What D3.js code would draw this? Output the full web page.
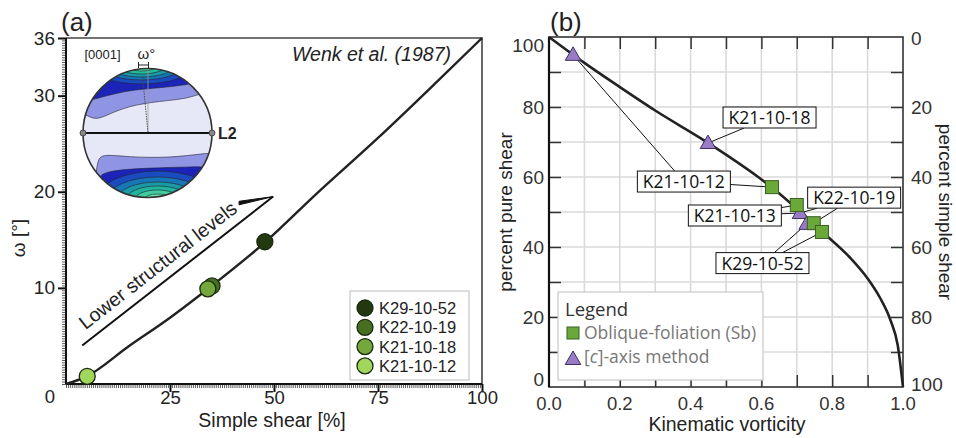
<!DOCTYPE html>
<html>
<head>
<meta charset="utf-8">
<script src="https://cdn.jsdelivr.net/npm/d3@7"></script>
<style>
body { margin: 0; background: #fff; }
text { font-family: "Liberation Sans", Arial, sans-serif; }
.lbl text, .lgd text { font-family: "Open Sans", sans-serif; }
.lgd text.sm { font-family: "Liberation Sans", Arial, sans-serif; }
</style>
</head>
<body>
<svg id="fig" width="956" height="438"></svg>
<script>
// ---- panel (a): omega vs simple shear (Wenk et al. 1987)
var shearPct = [0, 5, 15, 25, 35, 48, 60, 75, 90, 100];
var omegaDeg = [0, 0.8, 3.9, 6.9, 10.2, 14.8, 19.7, 25.6, 31.8, 36];

var sampleNames = ["K29-10-52", "K22-10-19", "K21-10-18", "K21-10-12"];
var sampleShear = [47.8, 35.1, 34.1, 5.1];
var sampleOmega = [14.8, 10.2, 9.9, 0.8];
var sampleColors = ["#22390f", "#46701f", "#74a83c", "#a0d65c"];

var aXTicks = [0, 25, 50, 75, 100];
var aYTicks = [10, 20, 30, 36];

// ---- panel (b): percent pure shear vs kinematic vorticity
var wkCurve   = [0, 0.1, 0.2, 0.3, 0.45, 0.63, 0.77, 0.85, 0.9, 0.935, 0.965, 0.985, 1.0];
var pureCurve = [100, 92.6, 85.7, 79, 69.7, 57, 44.5, 37, 31, 25.5, 19, 12, 0];

var sqName = ["K21-10-12", "K21-10-13", "K22-10-19", "K29-10-52"];
var sqWk   = [0.63, 0.70, 0.748, 0.771];
var sqPure = [57.1, 52, 46.8, 44.3];

var triName = ["K21-10-12", "K21-10-18", "K21-10-13", "K29-10-52"];
var triWk   = [0.068, 0.449, 0.709, 0.728];
var triPure = [94.9, 69.7, 49.7, 46.6];

var bXTicks = [0, 0.2, 0.4, 0.6, 0.8, 1.0];
var bYTicks = [0, 20, 40, 60, 80, 100];

var svg = d3.select("#fig");
var FS = 18.5;

// =================== panel (a)
var xa = d3.scaleLinear().domain([0, 100]).range([66, 482]);
var ya = d3.scaleLinear().domain([0, 36]).range([384, 38]);
var ga = svg.append("g");

// frame
ga.append("path")
    .attr("d", "M" + xa(0) + "," + ya(36) + "H" + xa(100) + "V" + ya(0))
    .attr("fill", "none").attr("stroke", "#444").attr("stroke-width", 1.6);

// minor ticks
ga.append("g").attr("transform", "translate(0," + ya(0) + ")")
    .call(d3.axisBottom(xa).ticks(200).tickSize(4).tickFormat(""))
    .call(function(g) { g.select(".domain").remove(); g.selectAll("line").attr("stroke", "#333").attr("stroke-width", 0.8); });
ga.append("g").attr("transform", "translate(" + xa(0) + ",0)")
    .call(d3.axisLeft(ya).tickValues(d3.range(0, 36.01, 0.25)).tickSize(4).tickFormat(""))
    .call(function(g) { g.select(".domain").remove(); g.selectAll("line").attr("stroke", "#333").attr("stroke-width", 0.8); });

// major ticks + labels
ga.append("g").attr("transform", "translate(0," + ya(0) + ")")
    .call(d3.axisBottom(xa).tickValues(aXTicks.slice(1)).tickSize(8).tickPadding(-1))
    .call(function(g) {
        g.select(".domain").remove();
        g.selectAll("line").attr("stroke", "#111").attr("stroke-width", 2);
        g.selectAll("text").attr("font-size", FS).attr("fill", "#222").attr("font-family", "Liberation Sans, Arial, sans-serif");
    });
ga.append("text").attr("x", xa(aXTicks[0]) - 16).attr("y", 403)
    .attr("text-anchor", "middle").attr("font-size", FS).attr("fill", "#222").text(aXTicks[0]);
ga.append("g").attr("transform", "translate(" + xa(0) + ",0)")
    .call(d3.axisLeft(ya).tickValues(aYTicks).tickSize(8).tickPadding(3))
    .call(function(g) {
        g.select(".domain").remove();
        g.selectAll("line").attr("stroke", "#111").attr("stroke-width", 2);
        g.selectAll("text").attr("font-size", FS + 0.5).attr("fill", "#222").attr("font-family", "Liberation Sans, Arial, sans-serif");
    });

// axes lines
ga.append("line").attr("x1", xa(0)).attr("x2", xa(100)).attr("y1", ya(0)).attr("y2", ya(0))
    .attr("stroke", "#111").attr("stroke-width", 2);
ga.append("line").attr("x1", xa(0)).attr("x2", xa(0)).attr("y1", ya(0)).attr("y2", ya(36))
    .attr("stroke", "#111").attr("stroke-width", 2);

// axis titles
ga.append("text").attr("x", 272).attr("y", 426.5).attr("text-anchor", "middle")
    .attr("font-size", 19.5).attr("fill", "#222").text("Simple shear [%]");
ga.append("text").attr("transform", "translate(25,238) rotate(-90)").attr("text-anchor", "middle")
    .attr("font-size", 19).attr("fill", "#222").text("ω [°]");
ga.append("text").attr("x", 61).attr("y", 31).attr("font-size", 26).attr("fill", "#222").text("(a)");
ga.append("text").attr("x", 451).attr("y", 61).attr("text-anchor", "end")
    .attr("font-size", 19.5).attr("font-style", "italic").attr("fill", "#222").text("Wenk et al. (1987)");

// curve
var lineA = d3.line().x(function(d, i) { return xa(shearPct[i]); })
    .y(function(d, i) { return ya(omegaDeg[i]); }).curve(d3.curveMonotoneX);
ga.append("path").attr("d", lineA(shearPct)).attr("fill", "none")
    .attr("stroke", "#222").attr("stroke-width", 2.4);

// arrow annotation "Lower structural levels"
var arrFrom = [3.9, 4.0], arrTo = [49.8, 19.5], barbEnd = [41.6, 18.8];
var ax0 = xa(arrFrom[0]), ay0 = ya(arrFrom[1]), ax1 = xa(arrTo[0]), ay1 = ya(arrTo[1]);
ga.append("line").attr("x1", ax0).attr("y1", ay0).attr("x2", ax1).attr("y2", ay1)
    .attr("stroke", "#111").attr("stroke-width", 2);
ga.append("path")
    .attr("d", "M" + ax1 + "," + ay1 + "L" + xa(barbEnd[0]) + "," + (ya(barbEnd[1]) - 2) +
               "L" + xa(barbEnd[0]) + "," + (ya(barbEnd[1]) + 1.5) + "Z")
    .attr("fill", "#111").attr("stroke", "#111").attr("stroke-width", 1);
var ang = Math.atan2(ay1 - ay0, ax1 - ax0) * 180 / Math.PI;
ga.append("text")
    .attr("transform", "translate(" + ax0 + "," + ay0 + ") rotate(" + ang + ") translate(12,-10)")
    .attr("font-size", 19.5).attr("fill", "#222").text("Lower structural levels");

// sample points
ga.selectAll("circle.pt").data(sampleNames).enter().append("circle").attr("class", "pt")
    .attr("cx", function(d, i) { return xa(sampleShear[i]); })
    .attr("cy", function(d, i) { return ya(sampleOmega[i]); })
    .attr("r", 8)
    .attr("fill", function(d, i) { return sampleColors[i]; })
    .attr("stroke", "#1a2a10").attr("stroke-width", 1.3);

// legend (a)
var lgA = ga.append("g").attr("class", "lgd");
lgA.append("rect").attr("x", 350).attr("y", 291).attr("width", 119).attr("height", 89)
    .attr("fill", "#fff").attr("stroke", "#bbb").attr("stroke-width", 1);
sampleNames.forEach(function(n, i) {
    lgA.append("circle").attr("cx", 365).attr("cy", 308 + i * 19.3).attr("r", 8)
        .attr("fill", sampleColors[i]).attr("stroke", "#1a2a10").attr("stroke-width", 1.3);
    lgA.append("text").attr("class", "sm").attr("x", 379).attr("y", 314 + i * 19.3).attr("font-size", 16.5)
        .attr("fill", "#222").text(n);
});

// stereonet inset
var net = ga.append("g").attr("transform", "translate(147.5,133)");
var R = 64.5;
net.append("clipPath").attr("id", "netclip").append("circle").attr("r", R);
var body = net.append("g").attr("clip-path", "url(#netclip)");
body.append("circle").attr("r", R).attr("fill", "#e7e8f7");
var bandLine = d3.line().curve(d3.curveBasis);
var bands = [
    { c: "#8f95e3", p: [[-70, -18], [-62, -19], [-53, -13], [-42, -17], [-20, -27], [13, -32], [40, -34], [63, -43], [70, -44], [70, -70], [-70, -70]] },
    { c: "#1c24b8", p: [[-70, -30], [-56, -33], [-20, -43], [13, -45], [53, -50], [70, -56], [70, -70], [-70, -70]] },
    { c: "#8f95e3", p: [[-53, 70], [-52, 45], [-50, 27], [-45, 21], [-20, 24], [22, 25], [60, 20], [70, 20], [70, 70]] },
    { c: "#1c24b8", p: [[-52, 70], [-51, 45], [-42, 38], [-4, 35], [46, 34], [70, 33], [70, 70]] }
];
bands.forEach(function(b) {
    body.append("path").attr("d", bandLine(b.p) + "Z").attr("fill", b.c)
        .attr("stroke", "#223").attr("stroke-width", 0.6);
});
var topRings = [[52, 19, "#1a4cc0"], [42, 15, "#1776b4"], [34, 12, "#1a9aa4"], [25, 9, "#25bc9a"], [16, 6, "#4fdca0"]];
var botRings = [[60, 28, "#1a4cc0"], [50, 22, "#1776b4"], [40, 17, "#1a9aa4"], [31, 13, "#21b39c"], [22, 9, "#3fcf9e"], [13, 5, "#66e6ac"]];
topRings.forEach(function(r) {
    body.append("ellipse").attr("cx", -6).attr("cy", -68).attr("rx", r[0]).attr("ry", r[1])
        .attr("fill", r[2]).attr("stroke", "#223").attr("stroke-width", 0.6);
});
botRings.forEach(function(r) {
    body.append("ellipse").attr("cx", 10).attr("cy", 66).attr("rx", r[0]).attr("ry", r[1])
        .attr("fill", r[2]).attr("stroke", "#223").attr("stroke-width", 0.6);
});
net.append("line").attr("x1", 0.5).attr("y1", -63).attr("x2", 0.5).attr("y2", 0)
    .attr("stroke", "#999").attr("stroke-width", 0.8);
net.append("line").attr("x1", -5).attr("y1", -57).attr("x2", 0.5).attr("y2", 0)
    .attr("stroke", "#444").attr("stroke-width", 0.9).attr("stroke-dasharray", "1.5,1");
net.append("circle").attr("r", R).attr("fill", "none").attr("stroke", "#333").attr("stroke-width", 1.6);
net.append("line").attr("x1", -R).attr("x2", R).attr("y1", 0).attr("y2", 0)
    .attr("stroke", "#111").attr("stroke-width", 2.2);
net.selectAll("circle.end").data([-R, R]).enter().append("circle").attr("class", "end")
    .attr("cx", function(d) { return d; }).attr("cy", 0).attr("r", 3)
    .attr("fill", "#888").attr("stroke", "#333").attr("stroke-width", 0.8);
net.append("text").attr("x", R + 6).attr("y", 6).attr("font-size", 16).attr("font-weight", "bold")
    .attr("fill", "#222").text("L2");
net.append("text").attr("x", -63).attr("y", -74).attr("font-size", 13).attr("fill", "#222").text("[0001]");
net.append("text").attr("x", -10).attr("y", -74).attr("font-size", 15).attr("fill", "#222").text("ω°");
net.append("path").attr("d", "M-9,-71V-65M-9,-68H1M1,-71V-65")
    .attr("fill", "none").attr("stroke", "#222").attr("stroke-width", 1);

// =================== panel (b)
var xb = d3.scaleLinear().domain([0, 1]).range([549, 903]);
var yb = d3.scaleLinear().domain([0, 100]).range([387, 37]);
var gb = svg.append("g");

// grid
gb.append("g").selectAll("line").data(d3.range(1, 10)).enter().append("line")
    .attr("x1", function(d) { return xb(d / 10); }).attr("x2", function(d) { return xb(d / 10); })
    .attr("y1", yb(100)).attr("y2", yb(0)).attr("stroke", "#dadada").attr("stroke-width", 1.6);
gb.append("g").selectAll("line").data(d3.range(1, 10)).enter().append("line")
    .attr("y1", function(d) { return yb(d * 10); }).attr("y2", function(d) { return yb(d * 10); })
    .attr("x1", xb(0)).attr("x2", xb(1)).attr("stroke", "#dadada").attr("stroke-width", 1.6);

// inward ticks
function tickStyle(g) {
    g.select(".domain").remove();
    g.selectAll("line").attr("stroke", "#333").attr("stroke-width", 1.5);
}
var tenths = d3.range(1, 10).map(function(d) { return d / 10; });
var tens = d3.range(1, 10).map(function(d) { return d * 10; });
gb.append("g").attr("transform", "translate(0," + yb(0) + ")")
    .call(d3.axisBottom(xb).tickValues(tenths).tickSize(-12).tickFormat("")).call(tickStyle);
gb.append("g").attr("transform", "translate(0," + yb(100) + ")")
    .call(d3.axisTop(xb).tickValues(tenths).tickSize(-12).tickFormat("")).call(tickStyle);
gb.append("g").attr("transform", "translate(" + xb(0) + ",0)")
    .call(d3.axisLeft(yb).tickValues(tens).tickSize(-12).tickFormat("")).call(tickStyle);
gb.append("g").attr("transform", "translate(" + xb(1) + ",0)")
    .call(d3.axisRight(yb).tickValues(tens).tickSize(-12).tickFormat("")).call(tickStyle);

// frame
gb.append("rect").attr("x", xb(0)).attr("y", yb(100)).attr("width", xb(1) - xb(0)).attr("height", yb(0) - yb(100))
    .attr("fill", "none").attr("stroke", "#333").attr("stroke-width", 1.6);
gb.append("line").attr("x1", xb(0)).attr("x2", xb(0)).attr("y1", yb(0)).attr("y2", yb(100))
    .attr("stroke", "#111").attr("stroke-width", 2.2);

// tick labels
gb.selectAll("text.xl").data(bXTicks).enter().append("text").attr("class", "xl")
    .attr("x", function(d) { return xb(d); }).attr("y", 410).attr("text-anchor", "middle")
    .attr("font-size", FS).attr("fill", "#333").text(function(d) { return d3.format(".1f")(d); });
gb.selectAll("text.yl").data(bYTicks).enter().append("text").attr("class", "yl")
    .attr("x", 544).attr("y", function(d) { return Math.min(379, Math.max(45, yb(d))) + 7; })
    .attr("text-anchor", "end").attr("font-size", FS + 0.5).attr("fill", "#333").text(function(d) { return d; });
gb.selectAll("text.yr").data(bYTicks).enter().append("text").attr("class", "yr")
    .attr("x", 911).attr("y", function(d) { return Math.min(384, Math.max(38, yb(100 - d))) + 7; })
    .attr("font-size", FS + 0.5).attr("fill", "#333").text(function(d) { return d; });

gb.append("text").attr("x", 727).attr("y", 431).attr("text-anchor", "middle")
    .attr("font-size", 19.5).attr("fill", "#222").text("Kinematic vorticity");
gb.append("text").attr("transform", "translate(512,212) rotate(-90)").attr("text-anchor", "middle")
    .attr("font-size", 19).attr("fill", "#222").text("percent pure shear");
gb.append("text").attr("transform", "translate(939,212) rotate(90)").attr("text-anchor", "middle")
    .attr("font-size", 19).attr("fill", "#222").text("percent simple shear");
gb.append("text").attr("x", 550).attr("y", 31).attr("font-size", 26).attr("fill", "#222").text("(b)");

// curve
var lineB = d3.line().x(function(d, i) { return xb(wkCurve[i]); })
    .y(function(d, i) { return yb(pureCurve[i]); }).curve(d3.curveMonotoneX);
gb.append("path").attr("d", lineB(wkCurve)).attr("fill", "none")
    .attr("stroke", "#222").attr("stroke-width", 2.6);

// labels with leaders (label centre in data units, linked points)
var labelSpots = [
    { t: "K21-10-12", wk: 0.381, p: 58.7, pts: [["tri", 0], ["sq", 0]] },
    { t: "K21-10-18", wk: 0.623, p: 77.0, pts: [["tri", 1]] },
    { t: "K21-10-13", wk: 0.525, p: 49.0, pts: [["sq", 1], ["tri", 2]] },
    { t: "K22-10-19", wk: 0.862, p: 54.1, pts: [["sq", 2], ["tri", 2]] },
    { t: "K29-10-52", wk: 0.603, p: 35.4, pts: [["tri", 3], ["sq", 3]] }
];
function ptXY(s) {
    return s[0] === "sq" ? [xb(sqWk[s[1]]), yb(sqPure[s[1]])] : [xb(triWk[s[1]]), yb(triPure[s[1]])];
}
var bw = 93, bh = 21;
var lblG = gb.append("g").attr("class", "lbl");
labelSpots.forEach(function(L) {
    var cx = xb(L.wk), cy = yb(L.p);
    L.pts.forEach(function(s) {
        var q = ptXY(s), dx = q[0] - cx, dy = q[1] - cy;
        var k = Math.min(Math.abs((bw / 2) / (dx || 1e-9)), Math.abs((bh / 2) / (dy || 1e-9)));
        lblG.append("line").attr("x1", cx + dx * k).attr("y1", cy + dy * k).attr("x2", q[0]).attr("y2", q[1])
            .attr("stroke", "#111").attr("stroke-width", 1);
    });
});

// markers
var triPath = d3.symbol().type(d3.symbolTriangle).size(105);
gb.selectAll("path.tri").data(triName).enter().append("path").attr("class", "tri")
    .attr("d", triPath)
    .attr("transform", function(d, i) { return "translate(" + xb(triWk[i]) + "," + (yb(triPure[i]) + 1) + ")"; })
    .attr("fill", "#9a7cc6").attr("stroke", "#3e3060").attr("stroke-width", 1);
gb.selectAll("rect.sq").data(sqName).enter().append("rect").attr("class", "sq")
    .attr("x", function(d, i) { return xb(sqWk[i]) - 6.5; })
    .attr("y", function(d, i) { return yb(sqPure[i]) - 6.5; })
    .attr("width", 13).attr("height", 13)
    .attr("fill", "#6aa83a").attr("stroke", "#3b5e22").attr("stroke-width", 1);

labelSpots.forEach(function(L) {
    var cx = xb(L.wk), cy = yb(L.p);
    lblG.append("rect").attr("x", cx - bw / 2).attr("y", cy - bh / 2).attr("width", bw).attr("height", bh)
        .attr("fill", "#fff").attr("stroke", "#111").attr("stroke-width", 1);
    lblG.append("text").attr("x", cx).attr("y", cy + 6.5).attr("text-anchor", "middle")
        .attr("font-size", 17.5).attr("fill", "#111").text(L.t);
});

// legend (b)
var lgB = gb.append("g").attr("class", "lgd");
lgB.append("rect").attr("x", 558).attr("y", 292).attr("width", 205).attr("height", 88)
    .attr("fill", "#fff").attr("stroke", "#c8c8c8").attr("stroke-width", 1.2);
lgB.append("text").attr("x", 565).attr("y", 316).attr("font-size", 18.5).attr("fill", "#333").text("Legend");
lgB.append("rect").attr("x", 567).attr("y", 327).attr("width", 12).attr("height", 12)
    .attr("fill", "#6aa83a").attr("stroke", "#3b5e22").attr("stroke-width", 1);
lgB.append("text").attr("x", 584).attr("y", 339).attr("font-size", 17.5).attr("fill", "#777").text("Oblique-foliation (Sb)");
lgB.append("path").attr("d", triPath).attr("transform", "translate(573,360)")
    .attr("fill", "#9a7cc6").attr("stroke", "#3e3060").attr("stroke-width", 1);
var ct = lgB.append("text").attr("x", 584).attr("y", 363).attr("font-size", 17.5).attr("fill", "#777");
ct.append("tspan").text("[");
ct.append("tspan").attr("font-style", "italic").text("c");
ct.append("tspan").text("]-axis method");
</script>
</body>
</html>
